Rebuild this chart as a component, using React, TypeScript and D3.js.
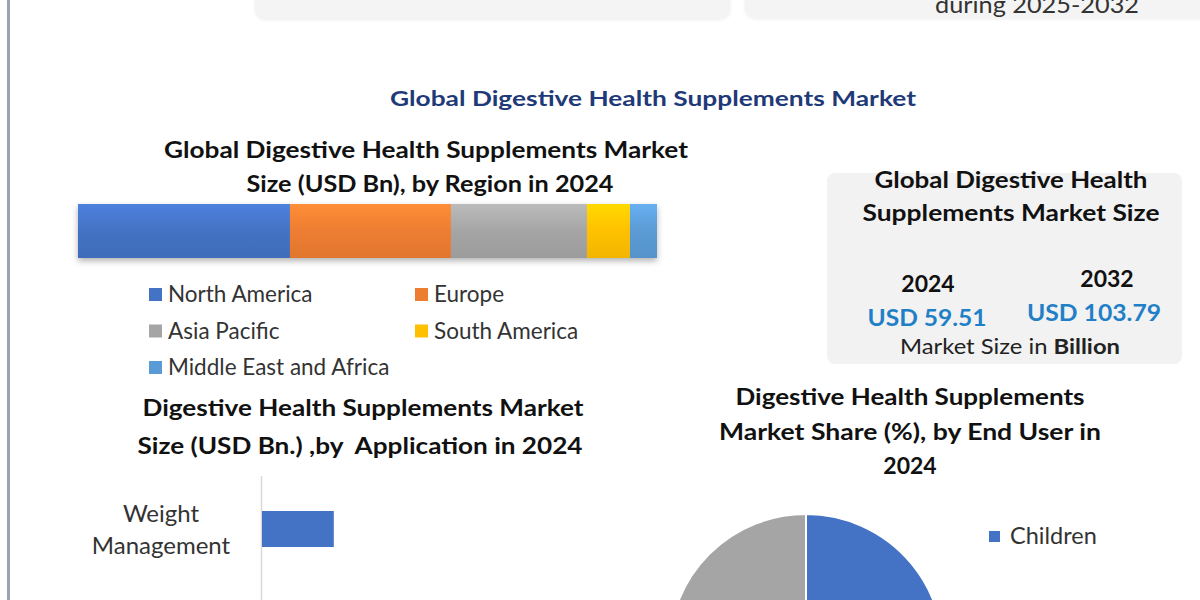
import React from "react";
import * as d3 from "d3";

const regions = ["North America", "Europe", "Asia Pacific", "South America", "Middle East and Africa"];
const regionValues = [21.79, 16.55, 13.98, 4.42, 2.78];
const regionColors = ["#4472c4", "#ed7d31", "#a5a5a5", "#ffc000", "#5b9bd5"];

const applications = ["Weight Management"];
const applicationValues = [8.6];

const endUsers = ["Children", "Adults", "Geriatric"];
const endUserShares = [28, 47, 25];
const endUserColors = ["#4472c4", "#ed7d31", "#a5a5a5"];

const sizeYears = ["2024", "2032"];
const sizeValues = ["USD 59.51", "USD 103.79"];

const FONT = "Lato, 'Open Sans', sans-serif";

export default function App() {
  React.useEffect(() => {
    document.body.style.margin = "0";
  }, []);

  const total = d3.sum(regionValues);
  const xStack = d3.scaleLinear().domain([0, total]).range([78, 657]);
  const yStack = d3.scaleBand().domain(["2024"]).range([204, 258]);
  const stackData = d3.stack<any>().keys(regions)([
    Object.fromEntries(regions.map((r, i) => [r, regionValues[i]])),
  ]);

  const xApp = d3.scaleLinear().domain([0, 20]).range([262, 429]);
  const yApp = d3.scaleBand().domain(applications).range([493, 565]).paddingInner(0).paddingOuter(0.5);

  const pieGen = d3.pie<number>().sort(null).value((d) => d);
  const arcs = pieGen(endUserShares);
  const arcGen = d3.arc<d3.PieArcDatum<number>>().innerRadius(0).outerRadius(137);

  const lighten = (c: string) => d3.color(c)!.brighter(0.35).formatHex();
  const darken = (c: string) => d3.color(c)!.darker(0.15).formatHex();

  const legendY = (i: number) => 544 + i * 70;

  return (
    <svg width={1200} height={600} style={{ position: "absolute", left: 0, top: 0, background: "#fff" }} fontFamily={FONT}>
      <defs>
        {regionColors.map((c, i) => (
          <linearGradient key={i} id={`g${i}`} x1="0" y1="0" x2="0" y2="1">
            <stop offset="0" stopColor={lighten(c)} />
            <stop offset="0.5" stopColor={c} />
            <stop offset="1" stopColor={darken(c)} />
          </linearGradient>
        ))}
        <filter id="shadow" x="-5%" y="-20%" width="110%" height="160%">
          <feDropShadow dx="0" dy="3" stdDeviation="3" floodColor="#000" floodOpacity="0.3" />
        </filter>
        <filter id="boxshadow" x="-5%" y="-5%" width="110%" height="110%">
          <feDropShadow dx="0" dy="0" stdDeviation="1.5" floodColor="#000" floodOpacity="0.08" />
        </filter>
        <clipPath id="boxclip">
          <rect x={827} y={173} width={355} height={182} />
        </clipPath>
      </defs>

      {/* left vertical rule */}
      <rect x={7} y={0} width={3} height={600} fill="#98a3b3" />

      {/* top boxes */}
      <rect x={255} y={-30} width={475} height={50} rx={10} fill="#f4f4f4" filter="url(#boxshadow)" />
      <rect x={745} y={-30} width={470} height={49} rx={10} fill="#f4f4f4" filter="url(#boxshadow)" />
      <text x={1037} y={13} textAnchor="middle" fontSize={23} fill="#333" textLength={204} lengthAdjust="spacingAndGlyphs">
        during 2025-2032
      </text>

      {/* main title */}
      <text x={653} y={106} textAnchor="middle" fontSize={21} fontWeight={700} fill="#1f3a78" textLength={526} lengthAdjust="spacingAndGlyphs">
        Global Digestive Health Supplements Market
      </text>

      {/* region chart title */}
      <text x={426} y={158} textAnchor="middle" fontSize={23} fontWeight={700} fill="#111" textLength={524} lengthAdjust="spacingAndGlyphs">
        Global Digestive Health Supplements Market
      </text>
      <text x={430} y={192} textAnchor="middle" fontSize={23} fontWeight={700} fill="#111" textLength={367} lengthAdjust="spacingAndGlyphs">
        Size (USD Bn), by Region in 2024
      </text>

      {/* stacked bar */}
      <g filter="url(#shadow)">
        {stackData.map((s, i) => (
          <rect
            key={regions[i]}
            x={xStack(s[0][0])}
            y={yStack("2024")}
            width={xStack(s[0][1]) - xStack(s[0][0])}
            height={yStack.bandwidth()}
            fill={`url(#g${i})`}
          />
        ))}
      </g>

      {/* region legend */}
      {regions.map((r, i) => {
        const col = i % 2;
        const row = Math.floor(i / 2);
        const lx = col === 0 ? 149 : 415;
        const ly = 302 + row * 36.5;
        return (
          <g key={r}>
            <rect x={lx} y={ly - 14} width={13} height={13} fill={regionColors[i]} />
            <text x={lx + 19} y={ly} fontSize={22.5} fill="#333">
              {r}
            </text>
          </g>
        );
      })}

      {/* market size box */}
      <rect x={827} y={173} width={355} height={191} rx={8} fill="#f2f2f2" />
      <text x={1011} y={188} textAnchor="middle" fontSize={22} fontWeight={700} fill="#111" textLength={273} lengthAdjust="spacingAndGlyphs">
        Global Digestive Health
      </text>
      <text x={1011} y={221} textAnchor="middle" fontSize={22} fontWeight={700} fill="#111" textLength={297} lengthAdjust="spacingAndGlyphs">
        Supplements Market Size
      </text>
      {sizeYears.map((yr, i) => (
        <g key={yr}>
          <text x={i === 0 ? 928 : 1107} y={i === 0 ? 292 : 287} textAnchor="middle" fontSize={23} fontWeight={700} fill="#111">
            {yr}
          </text>
          <text
            x={i === 0 ? 927 : 1094}
            y={i === 0 ? 326 : 321}
            textAnchor="middle"
            fontSize={23}
            fontWeight={700}
            fill="#1f80c8"
            textLength={i === 0 ? 119 : 134}
            lengthAdjust="spacingAndGlyphs"
          >
            {sizeValues[i]}
          </text>
        </g>
      ))}
      <g clipPath="url(#boxclip)">
        <text x={1010} y={354} textAnchor="middle" fontSize={21} fill="#222" textLength={220} lengthAdjust="spacingAndGlyphs">
          Market Size in <tspan fontWeight={700}>Billion</tspan>
        </text>
      </g>

      {/* application chart title */}
      <text x={363} y={416} textAnchor="middle" fontSize={23} fontWeight={700} fill="#111" textLength={441} lengthAdjust="spacingAndGlyphs">
        Digestive Health Supplements Market
      </text>
      <text x={360} y={454} textAnchor="middle" fontSize={23} fontWeight={700} fill="#111" textLength={445} lengthAdjust="spacingAndGlyphs" style={{ whiteSpace: "pre" }}>
        Size (USD Bn.) ,by  Application in 2024
      </text>

      {/* application bars */}
      <line x1={261.5} x2={261.5} y1={476} y2={600} stroke="#d9d9d9" strokeWidth={1.5} />
      {applications.map((a, i) => {
        const y = yApp(a)!;
        const words = a.split(" ");
        return (
          <g key={a}>
            <rect x={xApp(0)} y={y} width={xApp(applicationValues[i]) - xApp(0)} height={yApp.bandwidth()} fill="#4472c4" />
            <text x={161} y={y + yApp.bandwidth() / 2 - 7} textAnchor="middle" fontSize={24} fill="#333">
              <tspan x={161}>{words[0]}</tspan>
              <tspan x={161} dy={32}>{words.slice(1).join(" ")}</tspan>
            </text>
          </g>
        );
      })}

      {/* end user title */}
      <text x={910} y={405} textAnchor="middle" fontSize={23} fontWeight={700} fill="#111" textLength={349} lengthAdjust="spacingAndGlyphs">
        Digestive Health Supplements
      </text>
      <text x={910} y={440} textAnchor="middle" fontSize={23} fontWeight={700} fill="#111" textLength={382} lengthAdjust="spacingAndGlyphs">
        Market Share (%), by End User in
      </text>
      <text x={910} y={474} textAnchor="middle" fontSize={23} fontWeight={700} fill="#111">
        2024
      </text>

      {/* pie */}
      <g transform="translate(806,651)">
        {arcs.map((a, i) => (
          <path key={endUsers[i]} d={arcGen(a)!} fill={endUserColors[i]} stroke="#fff" strokeWidth={2} />
        ))}
      </g>
      {endUsers.map((u, i) =>
        legendY(i) < 600 ? (
          <g key={u}>
            <rect x={989} y={legendY(i) - 13} width={11} height={11} fill={endUserColors[i]} />
            <text x={1010} y={legendY(i)} fontSize={23.5} fill="#333">
              {u}
            </text>
          </g>
        ) : null
      )}
    </svg>
  );
}
